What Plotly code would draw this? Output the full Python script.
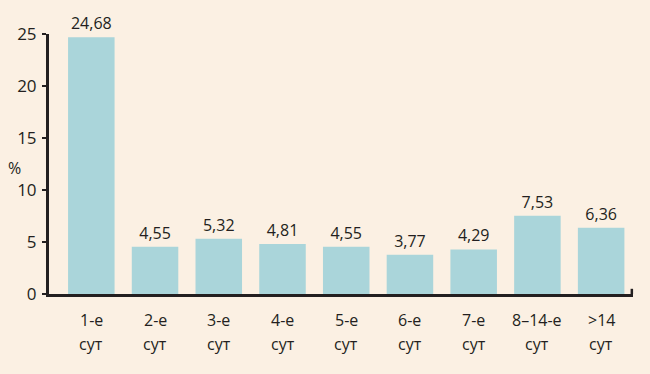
import plotly.graph_objects as go

categories = ["1-е сут", "2-е сут", "3-е сут", "4-е сут", "5-е сут", "6-е сут", "7-е сут", "8–14-е сут", ">14 сут"]
line1 = ["1-е", "2-е", "3-е", "4-е", "5-е", "6-е", "7-е", "8–14-е", ">14"]
line2 = ["сут"] * 9
values = [24.68, 4.55, 5.32, 4.81, 4.55, 3.77, 4.29, 7.53, 6.36]
value_labels = ["24,68", "4,55", "5,32", "4,81", "4,55", "3,77", "4,29", "7,53", "6,36"]
y_ticks = [0, 5, 10, 15, 20, 25]

BG = "#FBF0E3"
BAR = "#AAD5DA"
INK = "#231F20"
FONT = "Open Sans, Lato, sans-serif"

xs = list(range(len(categories)))

fig = go.Figure()
fig.add_trace(go.Bar(
    x=xs, y=values, marker=dict(color=BAR, line=dict(width=0)),
    text=value_labels, textposition="outside", cliponaxis=False,
    textfont=dict(family=FONT, size=16, color=INK), hoverinfo="skip",
))

for i in xs:
    fig.add_annotation(x=i, y=-0.1, xref="x", yref="paper", text=line1[i], showarrow=False,
                       yanchor="middle", font=dict(family=FONT, size=16, color=INK))
    fig.add_annotation(x=i, y=-0.193, xref="x", yref="paper", text=line2[i], showarrow=False,
                       yanchor="middle", font=dict(family=FONT, size=16, color=INK))

# "%" axis title
fig.add_annotation(x=-0.074, y=12.1, xref="paper", yref="y", text="%", showarrow=False,
                   font=dict(family=FONT, size=16, color=INK))

# small upward tick at the right end of the x axis
fig.add_shape(type="line", xref="paper", yref="y", x0=0.998, x1=0.998, y0=0, y1=0.5,
              line=dict(color=INK, width=2.5))

fig.update_layout(
    width=650, height=374,
    paper_bgcolor=BG, plot_bgcolor=BG,
    margin=dict(l=49, r=17, t=34, b=80),
    bargap=0.27, showlegend=False,
    xaxis=dict(range=[-0.664, 8.5], showticklabels=False, showgrid=False, zeroline=False,
               showline=True, linecolor=INK, linewidth=3, ticks=""),
    yaxis=dict(range=[0, 25], tickvals=y_ticks, showgrid=False, zeroline=False,
               showline=True, linecolor=INK, linewidth=3, ticks="outside", ticklen=4,
               tickwidth=2, tickcolor=INK, ticklabelstandoff=2,
               tickfont=dict(family=FONT, size=17, color=INK)),
)

fig.write_html("out.html", config={"displayModeBar": False},
               post_script="document.body.style.margin='0';document.body.style.overflow='hidden';")
